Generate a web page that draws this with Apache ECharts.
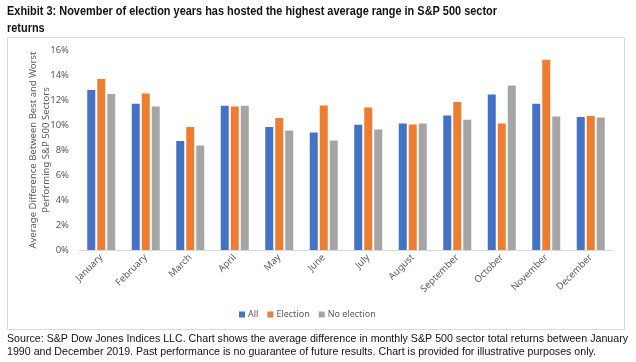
<!DOCTYPE html>
<html><head><meta charset="utf-8">
<script src="https://cdn.jsdelivr.net/npm/echarts@6/dist/echarts.min.js"></script>
<style>html,body{margin:0;padding:0;background:#fff}#c{width:636px;height:362px}</style>
</head><body><div id="c"></div>
<script>
const months = ["January","February","March","April","May","June","July","August","September","October","November","December"];
const allYears = [12.8, 11.7, 8.72, 11.55, 9.84, 9.41, 10.03, 10.13, 10.77, 12.45, 11.7, 10.64];
const electionYears = [13.68, 12.53, 9.84, 11.49, 10.56, 11.57, 11.41, 10.05, 11.84, 10.13, 15.23, 10.72];
const noElectionYears = [12.48, 11.49, 8.37, 11.55, 9.57, 8.77, 9.65, 10.13, 10.43, 13.17, 10.69, 10.61];
const seriesNames = ["All", "Election", "No election"];
const colors = ["#4472C4", "#ED7D31", "#A5A5A5"];
const yTitle = "Average Difference Between Best and Worst\nPerforming S&P 500 Sectors";
const titleLines = ["Exhibit 3: November of election years has hosted the highest average range in S&P 500 sector", "returns"];
const footLines = ["Source: S&P Dow Jones Indices LLC. Chart shows the average difference in monthly S&P 500 sector total returns between January",
  "1990 and December 2019. Past performance is no guarantee of future results. Chart is provided for illustrative purposes only."];

const cv = document.createElement('canvas').getContext('2d');
function measure(txt, f) { cv.font = f; return cv.measureText(txt).width; }
const titleFont = 'bold 13px "Liberation Sans Narrow", "Liberation Sans", Arial, sans-serif';
const footFont = '11px "Liberation Sans", Arial, sans-serif';
const tScale = 490 / measure(titleLines[0], titleFont);
const fScale = 621 / measure(footLines[0], footFont);

const chart = echarts.init(document.getElementById('c'), null, {renderer: 'canvas'});
const font = '"Noto Sans", sans-serif';
function txt(t, x, y, f, s) {
  return {type: 'text', x: x, y: y, scaleX: s, style: {text: t, font: f, fill: '#111', verticalAlign: 'top', align: 'left'}};
}
chart.setOption({
  animation: false,
  textStyle: {fontFamily: font},
  graphic: [
    {type: 'rect', shape: {x: 7.5, y: 37.5, width: 617, height: 292}, style: {fill: 'none', stroke: '#d9d9d9', lineWidth: 1}, z: -1},
    txt(titleLines[0], 7, 5, titleFont, tScale),
    txt(titleLines[1], 7, 22, titleFont, tScale),
    txt(footLines[0], 7, 333, footFont, fScale),
    txt(footLines[1], 7, 346, footFont, fScale),
    {type: 'text', x: 40, y: 150, rotation: Math.PI / 2,
     style: {text: yTitle, font: '9.5px "Noto Sans", sans-serif', fill: '#595959', align: 'center', verticalAlign: 'middle', lineHeight: 13}}
  ],
  legend: {
    data: seriesNames, left: 234, top: 305, itemWidth: 6, itemHeight: 6, itemGap: 9,
    icon: 'rect', textStyle: {fontSize: 9, color: '#595959', fontFamily: font, padding: [0,0,0,-2]}
  },
  grid: {left: 79, right: 23, top: 50, bottom: 112},
  xAxis: {
    type: 'category', data: months,
    axisLine: {lineStyle: {color: '#d9d9d9'}},
    axisTick: {show: false},
    axisLabel: {rotate: 45, fontSize: 9.5, color: '#595959', margin: 6, interval: 0, fontFamily: font}
  },
  yAxis: {
    type: 'value', min: 0, max: 16, interval: 2,
    axisLabel: {formatter: '{value}%', fontSize: 9.5, color: '#595959', margin: 10, fontFamily: font},
    splitLine: {show: false},
    axisLine: {show: false}, axisTick: {show: false}
  },
  series: [
    {name: seriesNames[0], type: 'bar', data: allYears, itemStyle: {color: colors[0]}, barWidth: 8, barGap: '25%'},
    {name: seriesNames[1], type: 'bar', data: electionYears, itemStyle: {color: colors[1]}, barWidth: 8, barGap: '25%'},
    {name: seriesNames[2], type: 'bar', data: noElectionYears, itemStyle: {color: colors[2]}, barWidth: 8, barGap: '25%'}
  ]
});
</script></body></html>
